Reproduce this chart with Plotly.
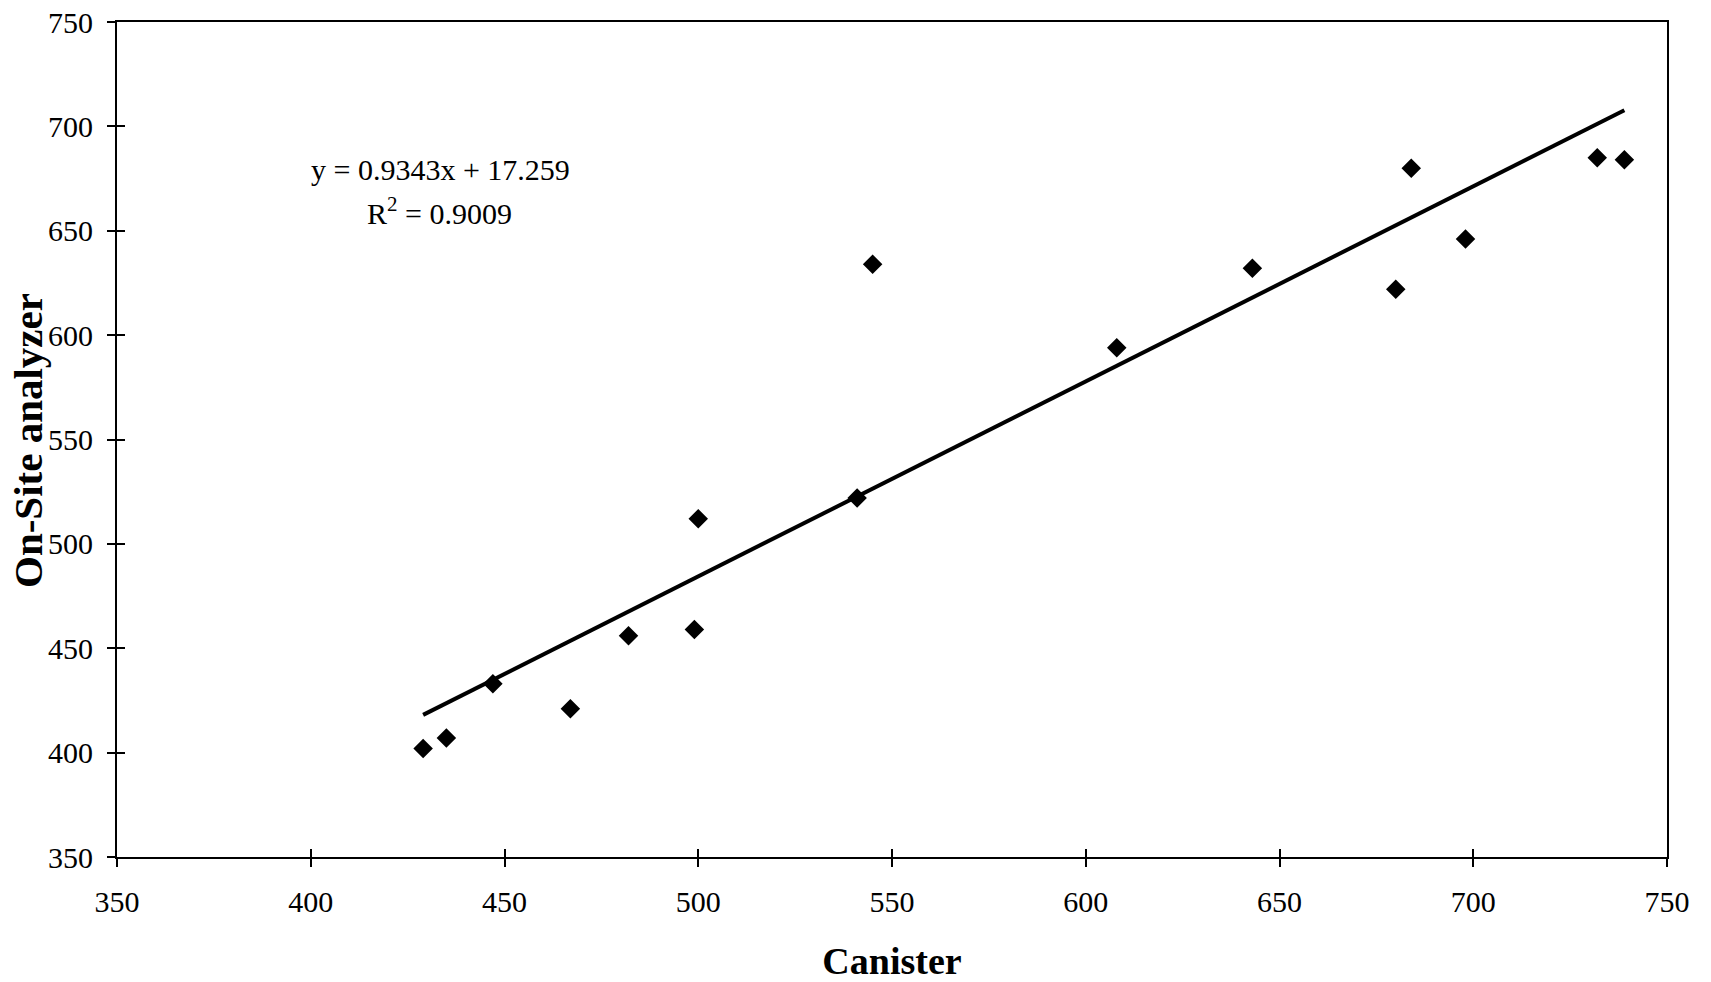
import plotly.graph_objects as go

# Paired measurements: canister sample vs on-site analyzer
canister = [429, 435, 447, 467, 482, 499, 500, 541, 545, 608, 643, 680, 684, 698, 732, 739]
onsite = [402, 407, 433, 421, 456, 459, 512, 522, 634, 594, 632, 622, 680, 646, 685, 684]

# Linear trendline as reported
slope = 0.9343
intercept = 17.259
r_squared = 0.9009

tick_vals = [350, 400, 450, 500, 550, 600, 650, 700, 750]
axis_range = [350, 750]

x_title = "Canister"
y_title = "On-Site analyzer"

fit_x = [min(canister), max(canister)]
fit_y = [slope * v + intercept for v in fit_x]

font_family = "Liberation Serif, Times New Roman, serif"

# Figure and plot-area geometry (pixels)
W, H = 1711, 982
ML, MR, MT, MB = 117, 44, 22, 125
plot_w = W - ML - MR
plot_h = H - MT - MB

fig = go.Figure()

fig.add_trace(go.Scatter(
    x=canister, y=onsite, mode="markers",
    marker=dict(symbol="diamond", size=15, color="black"),
    showlegend=False,
))

fig.add_trace(go.Scatter(
    x=fit_x, y=fit_y, mode="lines",
    line=dict(color="black", width=4),
    showlegend=False,
))

# Invisible trace on overlay axes that carry the inner half of each tick
fig.add_trace(go.Scatter(
    x=canister, y=onsite, mode="markers",
    marker=dict(opacity=0), xaxis="x2", yaxis="y2",
    showlegend=False, hoverinfo="skip",
))

axis_common = dict(
    range=axis_range, tickvals=tick_vals, showgrid=False, zeroline=False,
    showline=True, linecolor="black", linewidth=2, automargin=False,
    ticks="outside", ticklen=8, tickwidth=1.5, tickcolor="black",
    tickfont=dict(family=font_family, size=30, color="black"),
)

def px_to_paper(px, py):
    return (px - ML) / plot_w, 1 - (py - MT) / plot_h

eq_x, eq_y = px_to_paper(440, 169)
r2_x, r2_y = px_to_paper(439, 211)
yt_x, yt_y = px_to_paper(28, 441)

fig.update_layout(
    width=W, height=H,
    margin=dict(l=ML, r=MR, t=MT, b=MB),
    paper_bgcolor="white", plot_bgcolor="white",
    xaxis=dict(
        **axis_common, mirror=True, ticklabelstandoff=9,
        title=dict(text=f"<b>{x_title}</b>", standoff=32,
                   font=dict(family=font_family, size=38, color="black")),
    ),
    yaxis=dict(**axis_common, mirror=True, ticklabelstandoff=8),
    xaxis2=dict(
        range=axis_range, tickvals=tick_vals, overlaying="x", side="bottom",
        showgrid=False, zeroline=False, showline=False, showticklabels=False,
        ticks="inside", ticklen=8, tickwidth=1.5, tickcolor="black",
    ),
    yaxis2=dict(
        range=axis_range, tickvals=tick_vals, overlaying="y", side="left",
        showgrid=False, zeroline=False, showline=False, showticklabels=False,
        ticks="inside", ticklen=8, tickwidth=1.5, tickcolor="black",
    ),
    annotations=[
        dict(
            x=eq_x, y=eq_y, xref="paper", yref="paper",
            xanchor="center", yanchor="middle",
            text=f"y = {slope}x + {intercept}",
            showarrow=False, font=dict(family=font_family, size=30, color="black"),
        ),
        dict(
            x=r2_x, y=r2_y, xref="paper", yref="paper",
            xanchor="center", yanchor="middle",
            text=f"R<sup>2</sup> = {r_squared}",
            showarrow=False, font=dict(family=font_family, size=30, color="black"),
        ),
        dict(
            x=yt_x, y=yt_y, xref="paper", yref="paper",
            xanchor="center", yanchor="middle", textangle=-90,
            text=f"<b>{y_title}</b>",
            showarrow=False, font=dict(family=font_family, size=41, color="black"),
        ),
    ],
)

fig.write_html("out.html")
